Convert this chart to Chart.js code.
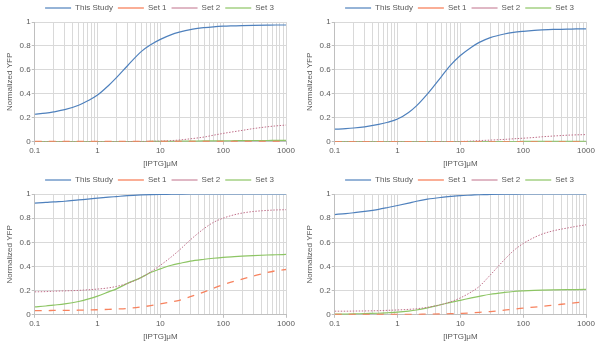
<!DOCTYPE html>
<html>
<head>
<meta charset="utf-8">
<script src="https://cdn.jsdelivr.net/npm/chart.js@4.4.1/dist/chart.umd.min.js"></script>
<style>
  html, body { margin: 0; padding: 0; background: #fff; }
  .panel { position: absolute; width: 300px; }
</style>
</head>
<body>
<div class="panel" style="left:0;top:0"><canvas id="c1" width="300" height="172"></canvas></div>
<div class="panel" style="left:300px;top:0"><canvas id="c2" width="300" height="172"></canvas></div>
<div class="panel" style="left:0;top:172px"><canvas id="c3" width="300" height="173"></canvas></div>
<div class="panel" style="left:300px;top:172px"><canvas id="c4" width="300" height="173"></canvas></div>
<script>
// IPTG concentrations (uM) where curves are sampled
const iptg = [0.1, 0.15, 0.2, 0.3, 0.5, 0.7, 1, 1.5, 2, 3, 5, 7, 10, 15, 20, 30, 50, 70, 100, 150, 200, 300, 500, 700, 1000];

// top left
const tlStudy = [0.23, 0.24, 0.25, 0.268, 0.305, 0.342, 0.39, 0.47, 0.535, 0.635, 0.755, 0.81, 0.855, 0.895, 0.915, 0.937, 0.953, 0.96, 0.965, 0.968, 0.97, 0.972, 0.974, 0.975, 0.975];
const tlSet1 = [0.003, 0.003, 0.003, 0.003, 0.003, 0.003, 0.003, 0.003, 0.003, 0.003, 0.003, 0.003, 0.003, 0.003, 0.003, 0.003, 0.003, 0.003, 0.003, 0.003, 0.003, 0.003, 0.003, 0.003, 0.003];
const tlSet2 = [0, 0, 0, 0, 0, 0, 0, 0.001, 0.001, 0.002, 0.003, 0.004, 0.006, 0.01, 0.015, 0.025, 0.04, 0.055, 0.07, 0.085, 0.095, 0.11, 0.125, 0.133, 0.14];
const tlSet3 = [0.001, 0.001, 0.001, 0.001, 0.001, 0.001, 0.001, 0.001, 0.002, 0.002, 0.002, 0.003, 0.003, 0.004, 0.005, 0.006, 0.007, 0.008, 0.008, 0.009, 0.01, 0.011, 0.011, 0.012, 0.012];

// top right
const trStudy = [0.105, 0.11, 0.115, 0.125, 0.145, 0.163, 0.19, 0.245, 0.3, 0.4, 0.545, 0.64, 0.72, 0.79, 0.83, 0.87, 0.9, 0.913, 0.922, 0.93, 0.934, 0.938, 0.94, 0.942, 0.943];
const trSet1 = [0.002, 0.002, 0.002, 0.002, 0.002, 0.002, 0.002, 0.002, 0.002, 0.002, 0.002, 0.002, 0.002, 0.002, 0.002, 0.002, 0.002, 0.002, 0.002, 0.002, 0.002, 0.002, 0.002, 0.002, 0.002];
const trSet2 = [0, 0, 0, 0, 0, 0, 0, 0, 0, 0.001, 0.002, 0.002, 0.003, 0.006, 0.01, 0.014, 0.02, 0.025, 0.03, 0.036, 0.042, 0.048, 0.055, 0.058, 0.06];
const trSet3 = [0.001, 0.001, 0.001, 0.001, 0.001, 0.001, 0.001, 0.001, 0.001, 0.001, 0.001, 0.001, 0.002, 0.002, 0.002, 0.002, 0.002, 0.002, 0.003, 0.003, 0.003, 0.003, 0.003, 0.003, 0.003];

// bottom left
const blStudy = [0.925, 0.93, 0.935, 0.94, 0.951, 0.958, 0.966, 0.974, 0.979, 0.986, 0.992, 0.995, 0.997, 0.998, 0.999, 1, 1, 1, 1, 1, 1, 1, 1, 1, 1];
const blSet1 = [0.035, 0.035, 0.036, 0.037, 0.038, 0.04, 0.042, 0.045, 0.048, 0.053, 0.065, 0.076, 0.09, 0.107, 0.12, 0.15, 0.19, 0.22, 0.25, 0.278, 0.295, 0.32, 0.35, 0.365, 0.375];
const blSet2 = [0.19, 0.192, 0.195, 0.198, 0.202, 0.207, 0.213, 0.223, 0.235, 0.26, 0.31, 0.355, 0.41, 0.48, 0.535, 0.62, 0.715, 0.765, 0.8, 0.828, 0.842, 0.855, 0.864, 0.868, 0.87];
const blSet3 = [0.065, 0.073, 0.08, 0.09, 0.11, 0.13, 0.155, 0.19, 0.215, 0.26, 0.31, 0.35, 0.38, 0.41, 0.425, 0.445, 0.46, 0.468, 0.475, 0.481, 0.485, 0.49, 0.495, 0.497, 0.5];

// bottom right
const brStudy = [0.83, 0.838, 0.845, 0.856, 0.873, 0.888, 0.905, 0.925, 0.94, 0.957, 0.972, 0.98, 0.987, 0.991, 0.994, 0.996, 0.998, 0.999, 1, 1, 1, 1, 1, 1, 1];
const brSet1 = [0.003, 0.003, 0.003, 0.003, 0.003, 0.003, 0.003, 0.003, 0.004, 0.005, 0.007, 0.009, 0.012, 0.016, 0.02, 0.027, 0.038, 0.047, 0.055, 0.064, 0.07, 0.08, 0.092, 0.1, 0.107];
const brSet2 = [0.03, 0.03, 0.031, 0.032, 0.034, 0.037, 0.04, 0.045, 0.05, 0.062, 0.085, 0.108, 0.14, 0.19, 0.235, 0.33, 0.455, 0.53, 0.59, 0.64, 0.668, 0.695, 0.718, 0.732, 0.745];
const brSet3 = [0.005, 0.006, 0.007, 0.01, 0.013, 0.017, 0.022, 0.031, 0.04, 0.058, 0.085, 0.103, 0.12, 0.14, 0.153, 0.17, 0.185, 0.193, 0.198, 0.202, 0.204, 0.206, 0.208, 0.209, 0.21];

const seriesNames = ['This Study', 'Set 1', 'Set 2', 'Set 3'];

Chart.defaults.font.family = '"Liberation Sans", Arial, sans-serif';
Chart.defaults.font.size = 8;
Chart.defaults.color = '#595959';

const gridCol = '#d9d9d9';
const axisCol = '#bfbfbf';

// gridline positions on the log axis: 1..9 in each decade
const logGrid = [];
for (let e = -1; e <= 2; e++) {
  for (let k = 1; k <= 9; k++) logGrid.push(Number((k * Math.pow(10, e)).toPrecision(3)));
}
logGrid.push(1000);
const isDecade = v => Math.abs(Math.log10(v) - Math.round(Math.log10(v))) < 1e-9;

const toPoints = arr => iptg.map((x, i) => ({ x: x, y: arr[i] }));

// nudges the legend to the right, like the original
const legendShift = {
  id: 'legendShift',
  afterLayout(chart) {
    chart.legend.left += 28;
  }
};

function makePanel(id, study, s1, s2, s3) {
  new Chart(document.getElementById(id), {
    type: 'line',
    data: {
      datasets: [
        { label: seriesNames[0], data: toPoints(study), borderColor: '#4f81bd', borderWidth: 1.2 },
        { label: seriesNames[1], data: toPoints(s1), borderColor: '#f7825e', borderDash: [7, 7], borderWidth: 1.3 },
        { label: seriesNames[2], data: toPoints(s2), borderColor: '#c0708a', borderDash: [1.5, 1.5], borderWidth: 1 },
        { label: seriesNames[3], data: toPoints(s3), borderColor: '#8dc564', borderWidth: 1.2 },
      ],
    },
    options: {
      responsive: false,
      animation: false,
      elements: {
        point: { radius: 0 },
        line: { cubicInterpolationMode: 'monotone' },
      },
      layout: { padding: { left: 5, right: 14, top: -1, bottom: 3 } },
      plugins: {
        tooltip: { enabled: false },
        legend: {
          position: 'top',
          labels: {
            usePointStyle: true,
            pointStyle: 'line',
            pointStyleWidth: 26,
            boxHeight: 8,
            padding: 5,
          },
        },
      },
      scales: {
        x: {
          type: 'logarithmic',
          min: 0.1,
          max: 1000,
          afterBuildTicks: scale => {
            scale.ticks = logGrid.map(v => ({ value: v, major: isDecade(v) }));
          },
          ticks: {
            autoSkip: false,
            maxRotation: 0,
            padding: 1,
            callback: v => (isDecade(v) ? String(v) : ''),
          },
          grid: {
            color: gridCol,
            tickLength: 3,
            tickColor: ctx => (ctx.tick && ctx.tick.major ? axisCol : 'rgba(0,0,0,0)'),
          },
          border: { color: axisCol },
          title: { display: true, text: '[IPTG]μM', padding: { top: 3, bottom: 0 } },
        },
        y: {
          min: 0,
          max: 1,
          ticks: {
            stepSize: 0.1,
            padding: 1,
            callback: v => String(Number(v.toFixed(1))),
          },
          grid: { color: gridCol, tickLength: 3, tickColor: axisCol },
          border: { color: axisCol },
          title: { display: true, text: 'Normalized YFP', padding: { top: 0, bottom: 4 } },
        },
      },
    },
    plugins: [legendShift],
  });
}

makePanel('c1', tlStudy, tlSet1, tlSet2, tlSet3);
makePanel('c2', trStudy, trSet1, trSet2, trSet3);
makePanel('c3', blStudy, blSet1, blSet2, blSet3);
makePanel('c4', brStudy, brSet1, brSet2, brSet3);
</script>
</body>
</html>
